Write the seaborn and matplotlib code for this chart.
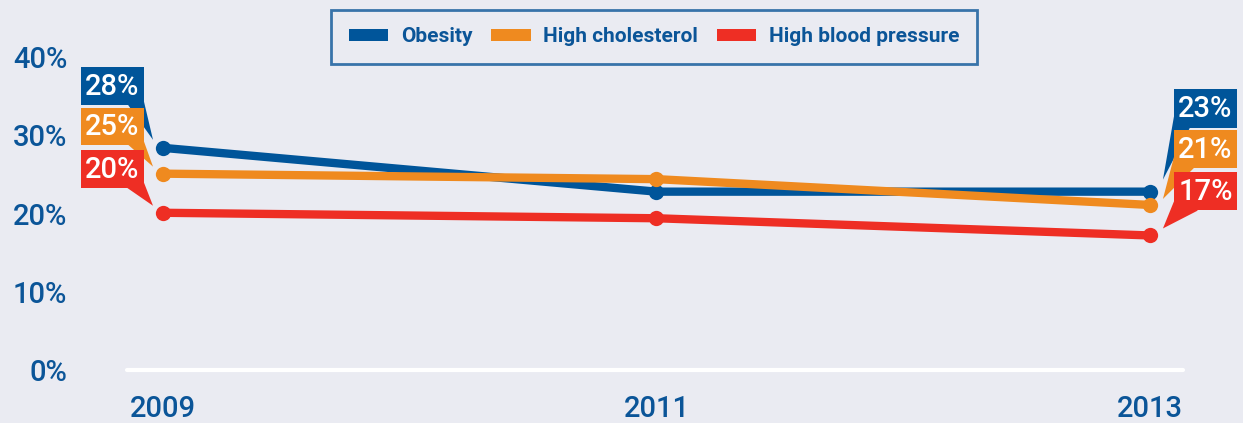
import matplotlib
matplotlib.use("Agg")
import matplotlib.pyplot as plt
import matplotlib.transforms as mtransforms
from matplotlib.patches import Patch, Polygon
import pandas as pd
import seaborn as sns

years = [2009, 2011, 2013]
obesity = [28.4, 22.8, 22.8]
cholesterol = [25.1, 24.4, 21.1]
blood_pressure = [20.1, 19.4, 17.2]
series_names = ["Obesity", "High cholesterol", "High blood pressure"]
colors = ["#00559A", "#EF8A1F", "#EE2E24"]
y_ticks = [0, 10, 20, 30, 40]

df = pd.DataFrame({
    "year": years * 3,
    "value": obesity + cholesterol + blood_pressure,
    "series": [s for s in series_names for _ in years],
})

sns.set_style("dark")
plt.rcParams["font.family"] = ["Roboto", "DejaVu Sans"]
bg = "#EAEBF2"
txt = "#0B5598"

fig = plt.figure(figsize=(12.43, 4.23), dpi=100, facecolor=bg)
ax = fig.add_axes([127 / 1243, 53 / 423, 1056 / 1243, 352 / 423])
ax.set_facecolor(bg)

sns.lineplot(data=df, x="year", y="value", hue="series", palette=colors,
             hue_order=series_names, marker="o", markersize=11, markeredgewidth=0,
             linewidth=6, ax=ax, legend=False)

ax.set_xlim(2008.854, 2013.134)
ax.set_ylim(0, 45)
ax.axhline(0, color="white", lw=3, clip_on=False, zorder=1)
for s in ax.spines.values():
    s.set_visible(False)
ax.grid(False)
ax.set_xlabel("")
ax.set_ylabel("")
ax.set_yticks(y_ticks)
ax.set_yticklabels([f"{v}%" for v in y_ticks])
ax.set_xticks(years)
ax.set_xticklabels([str(y) for y in years])
ax.tick_params(axis="y", length=0, pad=43, labelsize=21, labelcolor=txt)
ax.tick_params(axis="x", length=0, pad=18, labelsize=21, labelcolor=txt)
for t in ax.get_xticklabels() + ax.get_yticklabels():
    t.set_fontweight("medium")

# callout labels: box (x0, x1, y0, y1) and tail triangle, in pixel offsets from point (y down)
callouts = [
    # left side (2009)
    (0, obesity[0], (-82, -19, -81, -43), [(-35, -43), (-19, -46), (-10, -8)]),
    (0, cholesterol[0], (-82, -19, -66, -29), [(-35, -29), (-19, -32), (-10, -7)]),
    (0, blood_pressure[0], (-82, -19, -63, -25), [(-36, -25), (-19, -30), (-10, -7)]),
    # right side (2013)
    (2, obesity[2], (24, 87, -103, -64), [(24, -75), (40, -64), (13, -12)]),
    (2, cholesterol[2], (24, 87, -75, -37), [(24, -48), (44, -37), (13, -6)]),
    (2, blood_pressure[2], (24, 87, -63, -25), [(24, -34), (48, -25), (13, -7)]),
]
labels = [obesity[0], cholesterol[0], blood_pressure[0], obesity[2], cholesterol[2], blood_pressure[2]]
label_colors = colors + colors

for (i, val, box, tail), lab, col in zip(callouts, labels, label_colors):
    trans = mtransforms.Affine2D().scale(1, -1) + mtransforms.ScaledTranslation(years[i], val, ax.transData)
    x0, x1, y0, y1 = box
    tpoly = Polygon(tail, closed=True, transform=trans, facecolor=col, edgecolor="none",
                    clip_on=False, zorder=5)
    bpoly = Polygon([(x0, y0), (x1, y0), (x1, y1), (x0, y1)], closed=True, transform=trans,
                    facecolor=col, edgecolor="none", clip_on=False, zorder=5)
    ax.add_patch(tpoly)
    ax.add_patch(bpoly)
    ax.text((x0 + x1) / 2, (y0 + y1) / 2 + 1, f"{round(lab)}%", transform=trans, color="white",
            fontsize=21, fontweight="medium", ha="center", va="center", zorder=6, clip_on=False)

handles = [Patch(facecolor=c, edgecolor="none", label=n) for c, n in zip(colors, series_names)]
leg = fig.legend(handles=handles, loc="center", bbox_to_anchor=(654 / 1243, 1 - 37 / 423),
                 ncol=3, frameon=True, fancybox=False,
                 prop={"weight": "bold", "size": 15}, handlelength=1.9, handleheight=0.55,
                 handletextpad=0.6, columnspacing=0.9, borderpad=0.85)
leg.get_frame().set_edgecolor(txt)
leg.get_frame().set_linewidth(2)
leg.get_frame().set_facecolor(bg)
for t in leg.get_texts():
    t.set_color(txt)

fig.savefig("out.png", dpi=100, facecolor=bg)
